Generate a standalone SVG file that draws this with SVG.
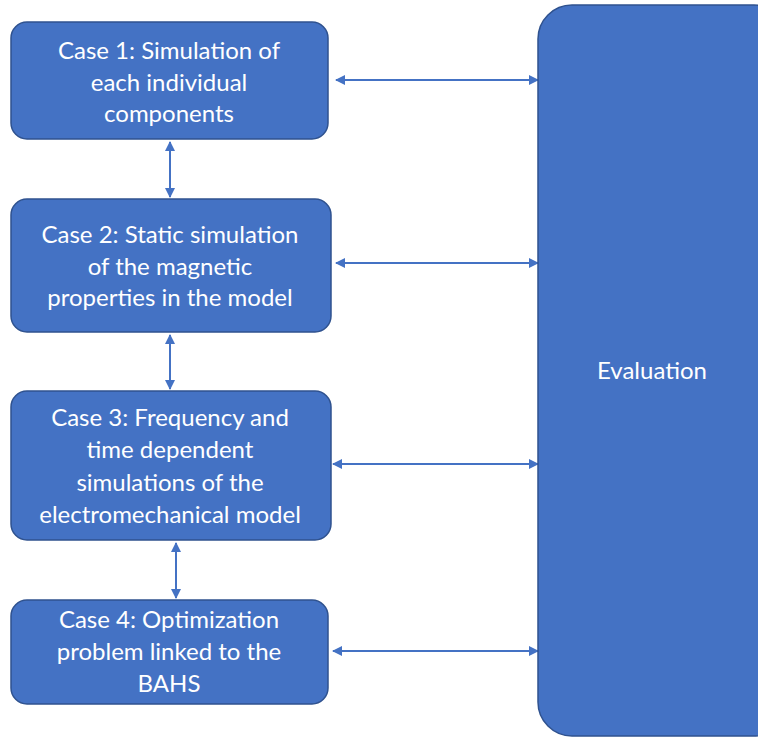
<svg xmlns="http://www.w3.org/2000/svg" width="758" height="738" viewBox="0 0 758 738">
<defs>
<style>
.box{fill:#4472C4;stroke:#2F528F;stroke-width:1.5}
.t{fill:#fff;font-family:Lato,"Open Sans","Liberation Sans",sans-serif;font-size:24px;text-anchor:middle}
.c{stroke:#4472C4;stroke-width:2;fill:none;marker-start:url(#a);marker-end:url(#a)}
</style>
<marker id="a" viewBox="0 0 10 10" refX="9" refY="5" markerWidth="5" markerHeight="5" orient="auto-start-reverse" markerUnits="strokeWidth">
<path d="M0,0 L10,5 L0,10 z" fill="#4472C4"/>
</marker>
</defs>
<rect width="758" height="738" fill="#fff"/>
<g id="connectors">
<line class="c" x1="336" y1="80" x2="538" y2="80"/>
<line class="c" x1="336" y1="263" x2="538" y2="263"/>
<line class="c" x1="333" y1="464" x2="538" y2="464"/>
<line class="c" x1="333" y1="651" x2="538" y2="651"/>
<line class="c" x1="170" y1="142" x2="170" y2="197"/>
<line class="c" x1="170" y1="335" x2="170" y2="389"/>
<line class="c" x1="176" y1="543" x2="176" y2="598"/>
</g>
<g id="case1">
<rect class="box" x="11" y="22" width="317" height="117" rx="16"/>
<text class="t" x="169" y="59">Case 1: Simulation of</text>
<text class="t" x="169" y="91">each individual</text>
<text class="t" x="169" y="122">components</text>
</g>
<g id="case2">
<rect class="box" x="11" y="199" width="320" height="133" rx="16"/>
<text class="t" x="170" y="243">Case 2: Static simulation</text>
<text class="t" x="170" y="275">of the magnetic</text>
<text class="t" x="170" y="306">properties in the model</text>
</g>
<g id="case3">
<rect class="box" x="11" y="391" width="320" height="149" rx="16"/>
<text class="t" x="170" y="426">Case 3: Frequency and</text>
<text class="t" x="170" y="458">time dependent</text>
<text class="t" x="170" y="491">simulations of the</text>
<text class="t" x="170" y="523">electromechanical model</text>
</g>
<g id="case4">
<rect class="box" x="11" y="600" width="317" height="104" rx="16"/>
<text class="t" x="169" y="628">Case 4: Optimization</text>
<text class="t" x="169" y="660">problem linked to the</text>
<text class="t" x="169" y="692">BAHS</text>
</g>
<g id="evaluation">
<rect class="box" x="538" y="5" width="250" height="731" rx="34"/>
<text class="t" x="652" y="379">Evaluation</text>
</g>
</svg>
